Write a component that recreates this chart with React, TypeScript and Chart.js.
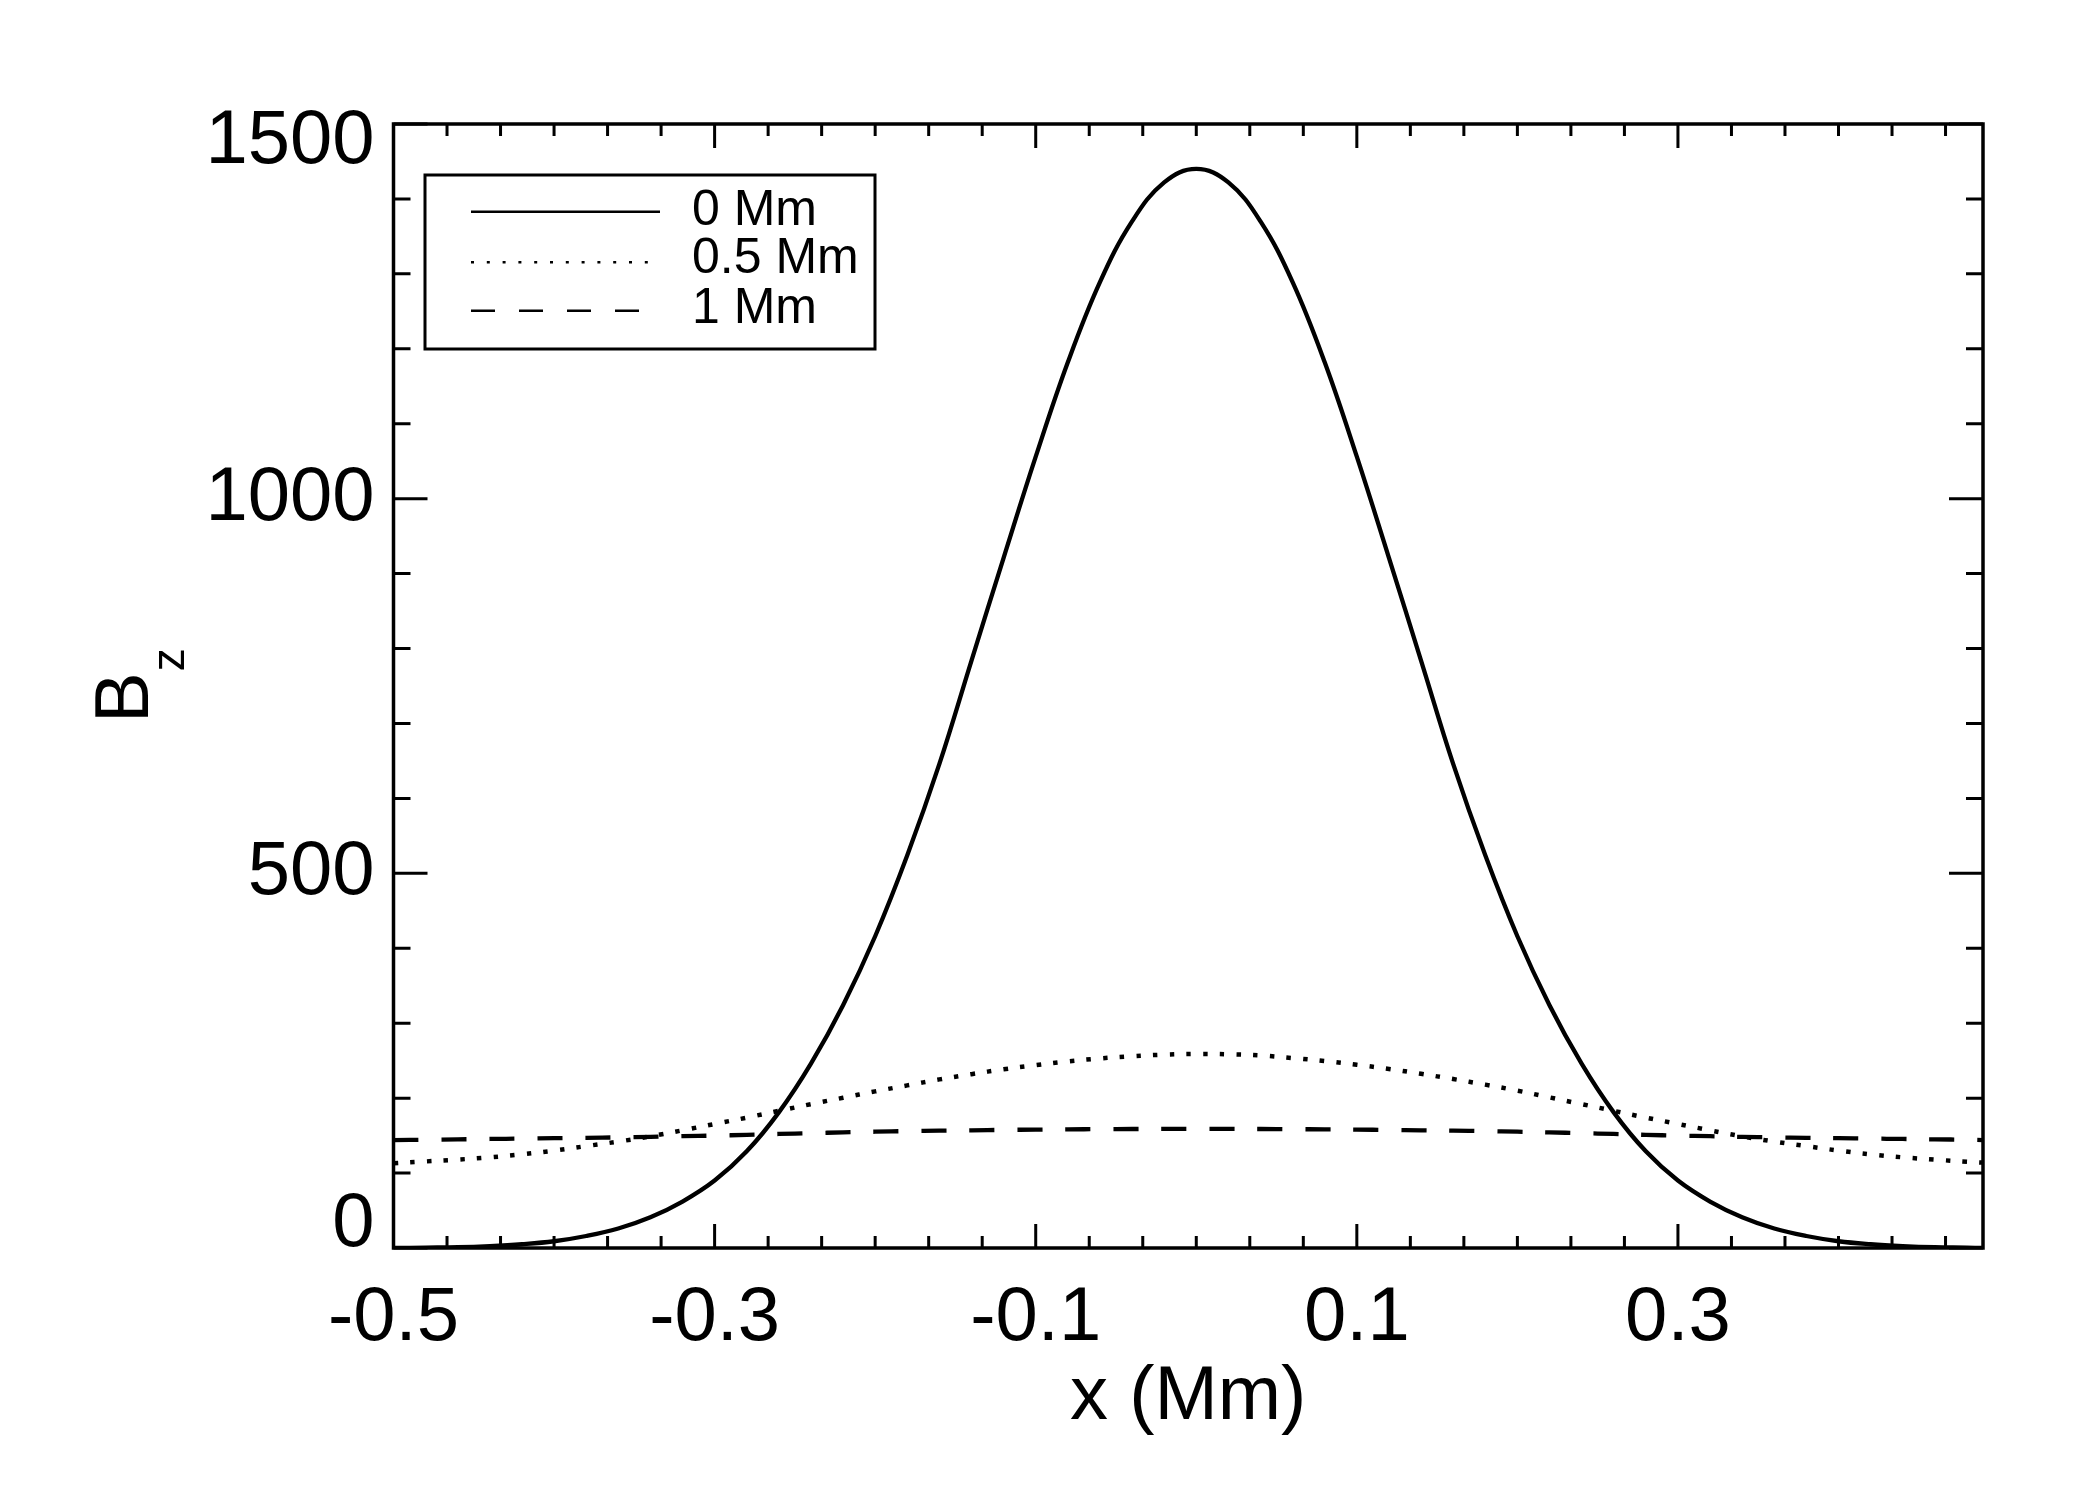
import { useEffect, useRef } from 'react'
import Chart from 'chart.js/auto'

// x positions (Mm) where the profiles were sampled
const xValues = [
  -0.5, -0.48, -0.46, -0.44, -0.42, -0.4, -0.38, -0.36, -0.34, -0.32,
  -0.3, -0.28, -0.26, -0.24, -0.22, -0.2, -0.18, -0.16, -0.14, -0.12,
  -0.1, -0.08, -0.06, -0.04, -0.02, 0, 0.02, 0.04, 0.06, 0.08,
  0.1, 0.12, 0.14, 0.16, 0.18, 0.2, 0.22, 0.24, 0.26, 0.28,
  0.3, 0.32, 0.34, 0.36, 0.38, 0.4, 0.42, 0.44, 0.46, 0.48, 0.49,
]

// Bz at 0 Mm
const bz0 = [
  0, 0.5, 1, 2.5, 5, 9, 16, 26, 41, 62,
  90, 129, 181, 246, 324, 416, 524, 646, 784, 921,
  1056, 1182, 1289, 1370, 1422, 1440, 1422, 1370, 1289, 1182,
  1056, 921, 784, 646, 524, 416, 324, 246, 181, 129,
  90, 62, 41, 26, 16, 9, 5, 2.5, 1, 0.5, 0,
]

// Bz at 0.5 Mm
const bz05 = [
  113, 115.5, 118, 121, 125, 130, 136, 142, 149, 157,
  165.5, 174, 183, 192, 200.5, 209, 217, 225, 232, 238.5,
  244, 249, 253, 256, 258, 259, 258.5, 257, 253.5, 249.5,
  244.5, 239, 232.5, 225.5, 218, 210, 201, 192, 183, 174,
  165.5, 157, 149, 142, 136, 130, 125, 121, 118, 115, 114,
]

// Bz at 1 Mm
const bz1 = [
  144, 144.5, 145, 145.5, 146, 146.5, 147, 147.6, 148.3, 149.2,
  150, 151, 152.2, 153.3, 154.3, 155.2, 156, 156.6, 157.1, 157.6,
  158, 158.3, 158.6, 158.8, 158.9, 159, 158.9, 158.8, 158.6, 158.3,
  158, 157.6, 157.1, 156.6, 156, 155.2, 154.3, 153.3, 152.2, 151,
  150, 149.2, 148.3, 147.6, 147, 146.5, 146, 145.5, 145, 144.5, 144,
]

const seriesLabels = ['0 Mm', '0.5 Mm', '1 Mm']

const xMajorTicks = [-0.5, -0.3, -0.1, 0.1, 0.3]
const xTickLabels = ['-0.5', '-0.3', '-0.1', '0.1', '0.3']
const yMajorTicks = [0, 500, 1000, 1500]
const yTickLabels = ['0', '500', '1000', '1500']

const FONT = "'Liberation Sans', Arial, Helvetica, sans-serif"

// inward ticks on all four sides, frame, y labels, y title, legend box
const idlAxes = {
  id: 'idlAxes',
  afterDraw(chart: any) {
    const { ctx, chartArea: a, scales } = chart
    const xs = scales.x
    const ys = scales.y
    ctx.save()
    ctx.strokeStyle = '#000'
    ctx.fillStyle = '#000'
    ctx.setLineDash([])

    // x ticks: 6 minor intervals per major
    const xStep = (xMajorTicks[1] - xMajorTicks[0]) / 6
    ctx.lineWidth = 3
    for (let v = xMajorTicks[0]; v <= xs.max + 1e-9; v += xStep) {
      const isMajor = xMajorTicks.some(m => Math.abs(m - v) < 1e-6)
      const len = isMajor ? 24 : 12
      const px = xs.getPixelForValue(v)
      ctx.beginPath()
      ctx.moveTo(px, a.bottom)
      ctx.lineTo(px, a.bottom - len)
      ctx.moveTo(px, a.top)
      ctx.lineTo(px, a.top + len)
      ctx.stroke()
    }
    // y ticks: 5 minor intervals per major
    const yStep = (yMajorTicks[1] - yMajorTicks[0]) / 5
    for (let v = yMajorTicks[0]; v <= ys.max + 1e-9; v += yStep) {
      const isMajor = yMajorTicks.some(m => Math.abs(m - v) < 1e-6)
      const len = isMajor ? 34 : 17
      const py = ys.getPixelForValue(v)
      ctx.beginPath()
      ctx.moveTo(a.left, py)
      ctx.lineTo(a.left + len, py)
      ctx.moveTo(a.right, py)
      ctx.lineTo(a.right - len, py)
      ctx.stroke()
    }

    // frame
    ctx.lineWidth = 3.5
    ctx.strokeRect(a.left, a.top, a.right - a.left, a.bottom - a.top)

    // y tick labels (end labels pulled inside like IDL)
    ctx.font = `76px ${FONT}`
    ctx.textAlign = 'right'
    ctx.textBaseline = 'middle'
    yMajorTicks.forEach((v, i) => {
      let py = ys.getPixelForValue(v)
      if (i === 0) py -= 23
      if (i === yMajorTicks.length - 1) py += 18
      ctx.fillText(yTickLabels[i], a.left - 19, py)
    })

    // y title: B with subscript z, rotated
    ctx.save()
    ctx.translate(148, 723)
    ctx.rotate(-Math.PI / 2)
    ctx.textAlign = 'left'
    ctx.textBaseline = 'alphabetic'
    ctx.font = `76px ${FONT}`
    ctx.fillText('B', 0, 0)
    const bw = ctx.measureText('B').width
    ctx.font = `46px ${FONT}`
    ctx.fillText('z', bw + 1, 36)
    ctx.restore()

    // legend
    const box = { left: 425, top: 175, width: 450, height: 174 }
    ctx.fillStyle = '#fff'
    ctx.fillRect(box.left, box.top, box.width, box.height)
    ctx.lineWidth = 3
    ctx.strokeRect(box.left, box.top, box.width, box.height)
    const rowLine = [211.7, 262.3, 310.7]
    const rowBase = [225, 273.3, 323.3]
    ctx.font = `50px ${FONT}`
    ctx.textAlign = 'left'
    ctx.textBaseline = 'alphabetic'
    chart.data.datasets.forEach((ds: any, i: number) => {
      ctx.strokeStyle = '#000'
      ctx.lineWidth = 2.5
      ctx.lineCap = 'butt'
      ctx.setLineDash(ds.legendDash)
      ctx.beginPath()
      ctx.moveTo(471, rowLine[i])
      ctx.lineTo(660, rowLine[i])
      ctx.stroke()
      ctx.setLineDash([])
      ctx.fillStyle = '#000'
      ctx.fillText(ds.label, 692, rowBase[i])
    })
    ctx.restore()
  },
}

export default function App() {
  const canvasRef = useRef<HTMLCanvasElement>(null)

  useEffect(() => {
    if (!canvasRef.current) return
    Chart.defaults.font.family = FONT

    const toPoints = (ys: number[]) => xValues.map((x, i) => ({ x, y: ys[i] }))

    const chart = new Chart(canvasRef.current, {
      type: 'line',
      data: {
        datasets: [
          {
            label: seriesLabels[0],
            data: toPoints(bz0),
            borderColor: '#000',
            borderWidth: 4.3,
            pointRadius: 0,
            tension: 0.4,
            legendDash: [],
          } as any,
          {
            label: seriesLabels[1],
            data: toPoints(bz05),
            borderColor: '#000',
            borderWidth: 4.5,
            borderDash: [4.5, 12.2],
            pointRadius: 0,
            tension: 0.4,
            legendDash: [3, 12.8],
          } as any,
          {
            label: seriesLabels[2],
            data: toPoints(bz1),
            borderColor: '#000',
            borderWidth: 4.3,
            borderDash: [25, 23],
            pointRadius: 0,
            tension: 0.4,
            legendDash: [24, 24],
          } as any,
        ],
      },
      options: {
        responsive: false,
        devicePixelRatio: 1,
        animation: false,
        events: [],
        layout: { padding: { top: 124, right: 117, left: 0, bottom: 0 } },
        plugins: {
          legend: { display: false },
          tooltip: { enabled: false },
        },
        scales: {
          x: {
            type: 'linear',
            min: -0.5,
            max: 0.49,
            afterBuildTicks: (s: any) => {
              s.ticks = xMajorTicks.map(v => ({ value: v }))
            },
            afterFit: (s: any) => {
              s.height = 252
            },
            grid: { display: false, drawTicks: false },
            border: { display: false },
            ticks: {
              autoSkip: false,
              maxRotation: 0,
              padding: 25,
              color: '#000',
              font: { size: 76 },
              callback: (_v: any, i: number) => xTickLabels[i],
            },
            title: {
              display: true,
              text: 'x (Mm)',
              color: '#000',
              font: { size: 76 },
              padding: { top: 0, bottom: 56 },
            },
          },
          y: {
            type: 'linear',
            min: 0,
            max: 1500,
            afterFit: (s: any) => {
              s.width = 393.5
            },
            grid: { display: false, drawTicks: false },
            border: { display: false },
            ticks: { display: false },
          },
        },
      },
      plugins: [idlAxes],
    })

    return () => chart.destroy()
  }, [])

  return (
    <div style={{ position: 'absolute', left: 0, top: 0, width: 2100, height: 1500, background: '#fff' }}>
      <canvas ref={canvasRef} width={2100} height={1500} style={{ display: 'block' }} />
    </div>
  )
}
